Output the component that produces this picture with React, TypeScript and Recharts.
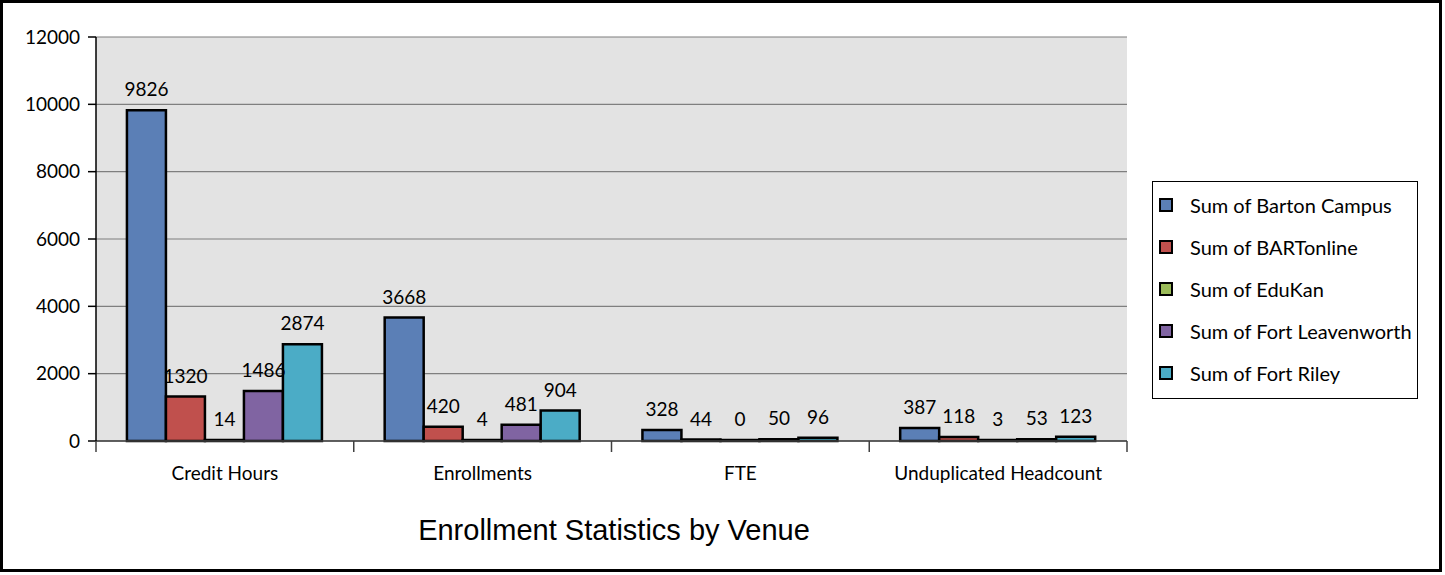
import { BarChart, Bar, XAxis, YAxis, CartesianGrid, LabelList } from 'recharts';

const categories = ['Credit Hours', 'Enrollments', 'FTE', 'Unduplicated Headcount'];
const seriesNames = [
  'Sum of Barton Campus',
  'Sum of BARTonline',
  'Sum of EduKan',
  'Sum of Fort Leavenworth',
  'Sum of Fort Riley',
];
const bartonCampus = [9826, 3668, 328, 387];
const bartOnline = [1320, 420, 44, 118];
const eduKan = [14, 4, 0, 3];
const fortLeavenworth = [1486, 481, 50, 53];
const fortRiley = [2874, 904, 96, 123];
const yTicks = [0, 2000, 4000, 6000, 8000, 10000, 12000];

const COLORS = ['#5b7fb6', '#c0504d', '#9bbb59', '#8064a2', '#4bacc6'];
const KEYS = ['s0', 's1', 's2', 's3', 's4'];
const FONT = 'Lato, "Open Sans", sans-serif';

const seriesValues = [bartonCampus, bartOnline, eduKan, fortLeavenworth, fortRiley];
const data = categories.map((name, i) => {
  const row: Record<string, string | number> = { name };
  seriesValues.forEach((vals, s) => { row[KEYS[s]] = vals[i]; });
  return row;
});

// category label plus boundary tick marks (ticks sit between categories)
// eslint-disable-next-line @typescript-eslint/no-explicit-any
function CatTick({ x, y, payload, index }: any) {
  const half = payload?.offset ? payload.offset : 1031 / 8;
  const isLast = index === categories.length - 1;
  return (
    <g>
      <line x1={x - half} y1={y - 8} x2={x - half} y2={y + 3} stroke="#404040" strokeWidth={1.5} />
      {isLast && <line x1={x + half} y1={y - 8} x2={x + half} y2={y + 3} stroke="#404040" strokeWidth={1.5} />}
      <text x={x} y={y + 31} textAnchor="middle" fontSize={19} fill="#000" fontFamily={FONT}>
        {payload.value}
      </text>
    </g>
  );
}

export default function App() {
  return (
    <div style={{ position: 'relative', width: 1436, height: 566, border: '3px solid #000', background: '#fff' }}>
      <style>{'body{margin:0}'}</style>
      <BarChart
        width={1436}
        height={566}
        data={data}
        margin={{ top: 34, right: 312, left: 33, bottom: 98 }}
        barCategoryGap="12%"
        barGap={0}
      >
        <CartesianGrid fill="#e3e3e3" stroke="#7f7f7f" vertical={false} strokeWidth={1.2} />
        <XAxis
          dataKey="name"
          tick={<CatTick />}
          tickLine={false}
          axisLine={{ stroke: '#404040', strokeWidth: 1.5 }}
          interval={0}
          height={30}
        />
        <YAxis
          domain={[0, 12000]}
          ticks={yTicks}
          width={60}
          tickSize={8}
          tickMargin={8}
          tick={{ fill: '#000', fontSize: 19, fontFamily: FONT }}
          axisLine={{ stroke: '#000', strokeWidth: 1.5 }}
          tickLine={{ stroke: '#000', strokeWidth: 1.5 }}
        />
        <YAxis
          yAxisId="r"
          orientation="right"
          domain={[0, 12000]}
          width={0}
          tick={false}
          tickLine={false}
          axisLine={{ stroke: '#7f7f7f', strokeWidth: 1.5 }}
        />
        {KEYS.map((k, i) => (
          <Bar
            key={k}
            dataKey={k}
            name={seriesNames[i]}
            fill={COLORS[i]}
            stroke="#000"
            strokeWidth={2.5}
            minPointSize={1}
            isAnimationActive={false}
          >
            <LabelList dataKey={k} position="top" offset={14} fill="#000" fontSize={19} fontFamily={FONT} />
          </Bar>
        ))}
      </BarChart>

      {/* legend */}
      <div
        style={{
          position: 'absolute', left: 1149, top: 178, width: 266, height: 218,
          border: '1px solid #000', background: '#fff', boxSizing: 'border-box',
          fontFamily: FONT, fontSize: 20, color: '#000',
        }}
      >
        {seriesNames.map((n, i) => (
          <div key={n} style={{ position: 'absolute', left: 6, top: 10 + i * 42, height: 26, display: 'flex', alignItems: 'center', whiteSpace: 'nowrap' }}>
            <span style={{ display: 'inline-block', width: 10, height: 10, background: COLORS[i], border: '2px solid #000', marginRight: 17 }} />
            <span>{n}</span>
          </div>
        ))}
      </div>

      {/* title */}
      <div
        style={{
          position: 'absolute', left: 0, top: 511, width: 1222, textAlign: 'center',
          fontFamily: '"Liberation Sans", Arial, sans-serif', fontSize: 29, color: '#000',
        }}
      >
        Enrollment Statistics by Venue
      </div>
    </div>
  );
}
